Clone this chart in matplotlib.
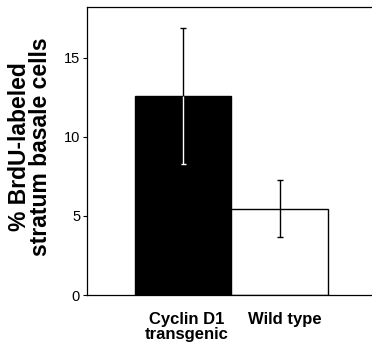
import matplotlib
matplotlib.use("Agg")
import matplotlib.pyplot as plt

plt.rcParams['font.family'] = ['Liberation Sans', 'DejaVu Sans']

### values
groups = ["Cyclin D1\ntransgenic", "Wild type"]
means = [12.6, 5.45]
errors = [4.3, 1.8]
yticks = [0, 5, 10, 15]

fig = plt.figure(figsize=(3.72, 3.44), dpi=100)
ax = fig.add_axes([0.234, 0.1424, 0.766, 0.8373])

xpos = list(range(len(groups)))
ax.bar(xpos, means, width=1.0, color=["black", "white"], edgecolor="black",
       linewidth=1.0, zorder=2)

# error bars: upper half black, part inside black bar drawn white
ax.errorbar(xpos, means, yerr=errors, fmt="none", ecolor="black",
            elinewidth=1.0, capsize=2.5, capthick=1.0, zorder=3)
ax.vlines(xpos[0], means[0] - errors[0], means[0], color="white",
          linewidth=1.0, zorder=4)
ax.hlines(means[0] - errors[0], xpos[0] - 0.025, xpos[0] + 0.025,
          color="white", linewidth=1.0, zorder=4)

ax.set_xlim(-1.0, 1.96)
ax.set_ylim(0, 18.2)
ax.set_yticks(yticks)
ax.set_yticklabels([str(t) for t in yticks], fontsize=10.5)
ax.set_xticks([0.04, 1.05])
ax.set_xticklabels(groups, fontsize=12, fontweight="bold", linespacing=1.0)
ax.tick_params(axis="x", length=0, pad=12)
ax.tick_params(axis="y", direction="out", length=3, width=0.8, pad=2)

ax.spines["right"].set_visible(False)
for s in ["left", "top", "bottom"]:
    ax.spines[s].set_linewidth(0.9)

ax.set_ylabel("% BrdU-labeled\nstratum basale cells", fontsize=16.5,
              fontweight="bold", linespacing=0.88)
ax.yaxis.set_label_coords(-0.122, 0.515)

fig.savefig("out.png", dpi=100)
